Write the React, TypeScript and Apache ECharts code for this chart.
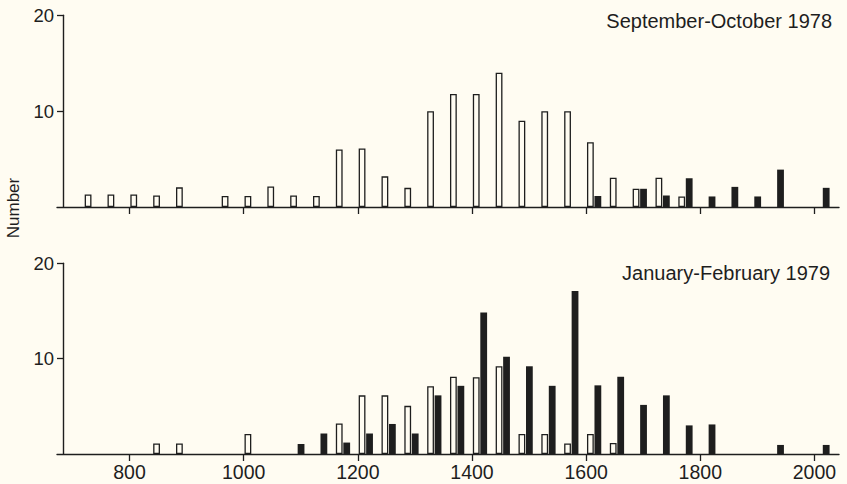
import React, { useEffect, useRef } from 'react';
import * as echarts from 'echarts';

// Bin start values (width 40)
const bins = [720, 760, 800, 840, 880, 920, 960, 1000, 1040, 1080, 1120, 1160, 1200, 1240, 1280, 1320, 1360, 1400, 1440, 1480, 1520, 1560, 1600, 1640, 1680, 1720, 1760, 1800, 1840, 1880, 1920, 1960, 2000];

const sepOctOpen = [1.3, 1.3, 1.3, 1.2, 2.05, null, 1.15, 1.15, 2.15, 1.2, 1.15, 6.0, 6.1, 3.2, 2.0, 10.0, 11.8, 11.8, 14.0, 9.0, 10.0, 10.0, 6.75, 3.05, 1.9, 3.05, 1.1, null, null, null, null, null, null];
const sepOctFilled = [null, null, null, null, null, null, null, null, null, null, null, null, null, null, null, null, null, null, null, null, null, null, 1.15, null, 1.9, 1.2, 3.0, 1.1, 2.1, 1.1, 3.9, null, 2.0];

const janFebOpen = [null, null, null, 1.1, 1.1, null, null, 2.1, null, null, null, 3.2, 6.15, 6.15, 5.05, 7.1, 8.1, 8.05, 9.2, 2.1, 2.1, 1.1, 2.1, 1.15, null, null, null, null, null, null, null, null, null];
const janFebFilled = [null, null, null, null, null, null, null, null, null, 1.05, 2.15, 1.2, 2.15, 3.15, 2.15, 6.15, 7.15, 14.85, 10.2, 9.2, 7.15, 17.1, 7.2, 8.1, 5.15, 6.15, 3.0, 3.1, null, null, 0.95, null, 0.95];

const xTickValues = [800, 1000, 1200, 1400, 1600, 1800, 2000];
const yTickValues = [10, 20];
const panelTitles = ['September-October 1978', 'January-February 1979'];
const yAxisName = 'Number';

const BG = '#fffcf2';
const INK = '#1e1e1e';
const FONT = "'Liberation Sans', Arial, Helvetica, sans-serif";
const PAIR_OFFSET = 14; // pair of bars drawn from bin start

const toPairs = (vals: (number | null)[]) =>
  bins.map((b, i) => [b + PAIR_OFFSET, vals[i]]);

export default function App() {
  const ref = useRef<HTMLDivElement>(null);
  useEffect(() => {
    if (!ref.current) return;
    const chart = echarts.init(ref.current, null, { renderer: 'svg' });

    const grids = [
      { left: 57, width: 782, top: 15.3, height: 191.7 },
      { left: 57, width: 782, top: 263.3, height: 190.7 },
    ];

    const xAxis = [0, 1].map((i) => ({
      type: 'value',
      gridIndex: i,
      min: 673,
      max: 2043,
      splitLine: { show: false },
      axisLine: { show: true, lineStyle: { color: INK, width: 1.4 } },
      axisTick: {
        show: true,
        length: 7,
        customValues: xTickValues,
        lineStyle: { color: INK, width: 1.3 },
      },
      axisLabel: {
        show: i === 1,
        customValues: xTickValues,
        formatter: (v: number) => String(v),
        margin: 8,
        color: INK,
        fontSize: 19.5,
        fontFamily: FONT,
      },
    }));

    const yAxis = [0, 1].map((i) => ({
      type: 'value',
      gridIndex: i,
      min: 0,
      max: 20,
      offset: -6,
      splitLine: { show: false },
      axisLine: { show: true, lineStyle: { color: INK, width: 1.4 } },
      axisTick: {
        show: true,
        length: 6,
        customValues: yTickValues,
        lineStyle: { color: INK, width: 1.3 },
      },
      axisLabel: {
        show: true,
        customValues: yTickValues,
        formatter: (v: number) => String(v),
        margin: 9,
        color: INK,
        fontSize: 18.5,
        fontFamily: FONT,
      },
    }));

    const openStyle = { color: BG, borderColor: INK, borderWidth: 1.3 };
    const filledStyle = { color: INK };

    const series = [
      { data: toPairs(sepOctOpen), style: openStyle, idx: 0 },
      { data: toPairs(sepOctFilled), style: filledStyle, idx: 0 },
      { data: toPairs(janFebOpen), style: openStyle, idx: 1 },
      { data: toPairs(janFebFilled), style: filledStyle, idx: 1 },
    ].map((s) => ({
      type: 'bar',
      xAxisIndex: s.idx,
      yAxisIndex: s.idx,
      data: s.data,
      barWidth: 6.8,
      barGap: '10%',
      itemStyle: s.style,
      emphasis: { disabled: true },
    }));

    chart.setOption({
      animation: false,
      backgroundColor: BG,
      grid: grids,
      xAxis,
      yAxis,
      series,
      graphic: [
        {
          type: 'text',
          right: 15,
          top: 11,
          style: { text: panelTitles[0], fill: INK, font: `20px ${FONT}` },
        },
        {
          type: 'text',
          right: 17,
          top: 263,
          style: { text: panelTitles[1], fill: INK, font: `20px ${FONT}` },
        },
        {
          type: 'text',
          x: 13,
          y: 208,
          rotation: Math.PI / 2,
          style: {
            text: yAxisName,
            fill: INK,
            font: `17px ${FONT}`,
            align: 'center',
            verticalAlign: 'middle',
          },
        },
      ],
    });
    return () => chart.dispose();
  }, []);

  return (
    <div
      ref={ref}
      style={{ position: 'fixed', left: 0, top: 0, width: 847, height: 484, background: BG }}
    />
  );
}
